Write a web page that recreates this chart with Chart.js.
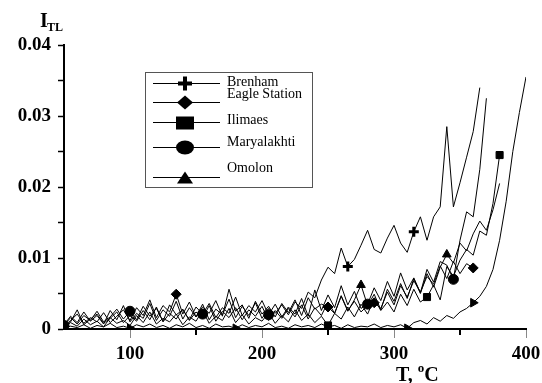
<!DOCTYPE html>
<html><head><meta charset="utf-8">
<script src="https://cdn.jsdelivr.net/npm/chart.js@4"></script>
<style>html,body{margin:0;padding:0;background:#fff}#wrap{width:542px;height:383px;position:relative}</style>
</head><body><div id="wrap"><canvas id="c" width="542" height="383"></canvas></div>
<script>
// Temperature, °C
const temperatures = [50,55,60,65,70,75,80,85,90,95,100,105,110,115,120,125,130,135,140,145,150,155,160,165,170,175,180,185,190,195,200,205,210,215,220,225,230,235,240,245,250,255,260,265,270,275,280,285,290,295,300,305,310,315,320,325,330,335,340,345,350,355,360,365,370,375,380,385,390,395,400];

const brenham = [0.0006,0.0018,0.0009,0.0024,0.0011,0.0019,0.0007,0.0026,0.0013,0.0033,0.0010,0.0022,0.0015,0.0036,0.0012,0.0027,0.0018,0.0039,0.0014,0.0030,0.0017,0.0035,0.0013,0.0028,0.0020,0.0042,0.0016,0.0032,0.0019,0.0037,0.0015,0.0029,0.0022,0.0034,0.0020,0.0038,0.0029,0.0052,0.0044,0.0069,0.0087,0.0078,0.0114,0.0088,0.0098,0.0118,0.0139,0.0112,0.0107,0.0128,0.0146,0.0121,0.0108,0.0137,0.0158,0.0125,0.0158,0.0172,0.0285,0.0172,0.0206,0.0242,0.0278,0.0340,null,null,null,null,null,null,null];
const eagleStation = [0.0004,0.0012,0.0021,0.0008,0.0016,0.0010,0.0023,0.0009,0.0018,0.0027,0.0012,0.0030,0.0019,0.0041,0.0016,0.0033,0.0024,0.0049,0.0021,0.0038,0.0017,0.0031,0.0022,0.0040,0.0018,0.0056,0.0025,0.0034,0.0015,0.0039,0.0021,0.0032,0.0017,0.0036,0.0023,0.0041,0.0019,0.0044,0.0028,0.0035,0.0031,0.0022,0.0047,0.0026,0.0039,0.0024,0.0033,0.0037,0.0029,0.0052,0.0034,0.0061,0.0045,0.0068,0.0052,0.0074,0.0063,0.0089,0.0071,0.0095,0.0078,0.0092,0.0086,null,null,null,null,null,null,null,null];
const ilimaes = [0.0003,0.0009,0.0004,0.0014,0.0006,0.0011,0.0003,0.0016,0.0008,0.0012,0.0005,0.0019,0.0009,0.0024,0.0007,0.0015,0.0010,0.0021,0.0006,0.0017,0.0011,0.0026,0.0008,0.0018,0.0012,0.0029,0.0009,0.0020,0.0007,0.0016,0.0011,0.0023,0.0008,0.0019,0.0010,0.0027,0.0012,0.0021,0.0009,0.0018,0.0005,0.0022,0.0014,0.0031,0.0017,0.0035,0.0021,0.0043,0.0026,0.0038,0.0024,0.0049,0.0033,0.0056,0.0038,0.0045,0.0062,0.0041,0.0088,0.0074,0.0097,0.0112,0.0104,0.0138,0.0132,0.0177,0.0245,null,null,null,null];
const maryalakhti = [0.0005,0.0016,0.0007,0.0019,0.0012,0.0025,0.0010,0.0017,0.0028,0.0014,0.0025,0.0013,0.0032,0.0018,0.0029,0.0011,0.0034,0.0020,0.0027,0.0013,0.0031,0.0021,0.0036,0.0016,0.0030,0.0022,0.0045,0.0019,0.0033,0.0024,0.0040,0.0020,0.0035,0.0017,0.0031,0.0021,0.0043,0.0018,0.0055,0.0026,0.0048,0.0030,0.0061,0.0034,0.0053,0.0029,0.0035,0.0058,0.0040,0.0067,0.0046,0.0079,0.0055,0.0072,0.0051,0.0084,0.0066,0.0095,0.0090,0.0070,0.0125,0.0165,0.0158,0.0225,0.0325,null,null,null,null,null,null];
const omolon = [0.0002,0.0010,0.0027,0.0006,0.0014,0.0021,0.0008,0.0015,0.0024,0.0009,0.0019,0.0011,0.0026,0.0013,0.0031,0.0010,0.0022,0.0014,0.0028,0.0012,0.0024,0.0015,0.0033,0.0011,0.0025,0.0016,0.0030,0.0013,0.0027,0.0018,0.0032,0.0012,0.0026,0.0015,0.0029,0.0017,0.0034,0.0014,0.0030,0.0019,0.0038,0.0022,0.0046,0.0025,0.0041,0.0062,0.0033,0.0049,0.0027,0.0056,0.0039,0.0064,0.0043,0.0071,0.0050,0.0078,0.0059,0.0087,0.0105,0.0093,0.0121,0.0110,0.0134,0.0152,0.0139,0.0168,0.0205,null,null,null,null];
const unlabelled = [0.0001,0.0004,0.0002,0.0006,0.0001,0.0005,0.0003,0.0008,0.0002,0.0004,0.0001,0.0006,0.0003,0.0007,0.0002,0.0005,0.0001,0.0006,0.0003,0.0008,0.0002,0.0005,0.0001,0.0007,0.0003,0.0004,0.0001,0.0006,0.0002,0.0005,0.0003,0.0008,0.0002,0.0004,0.0001,0.0006,0.0003,0.0005,0.0002,0.0007,0.0003,0.0005,0.0001,0.0006,0.0002,0.0004,0.0003,0.0007,0.0002,0.0005,0.0003,0.0006,0.0001,0.0009,0.0012,0.0007,0.0016,0.0011,0.0019,0.0015,0.0024,0.0029,0.0037,0.0046,0.0060,0.0084,0.0125,0.0180,0.0250,0.0305,0.0355];

// temperatures where each series shows its marker
const brenhamMarks = [265,315];
const eagleMarks = [50,135,250,285,360];
const ilimaesMarks = [50,250,325,380];
const maryaMarks = [50,100,155,205,280,345];
const omolonMarks = [275,340];
const unlabelledMarks = [100,180,310,360];

const yTickLabels = ['0','0.01','0.02','0.03','0.04'];
const xTickLabels = ['100','200','300','400'];

const legendNames = ['Brenham','Eagle Station','Ilimaes','Maryalakhti','Omolon'];
const legendStyles = ['cross','diamond','square','circle','triangle'];

function pts(vals){
  const out=[];
  vals.forEach((v,i)=>{ if(v!==null) out.push({x:temperatures[i],y:v}); });
  return out;
}
function ds(label, vals, marks, style, extra){
  return Object.assign({
    label, data: pts(vals),
    borderColor:'#000', borderWidth:1, tension:0,
    pointStyle: style,
    pointBackgroundColor:'#000', pointBorderColor:'#000', pointBorderWidth:1,
    pointRadius: c => marks.includes(c.raw && c.raw.x) ? 5 : 0,
    pointHoverRadius:0
  }, extra||{});
}

const FONT = "'Liberation Serif','Times New Roman',serif";

const decor = {
  id:'decor',
  afterDraw(chart){
    const c = chart.ctx, xs = chart.scales.x, ys = chart.scales.y;
    c.save();
    // minor x ticks
    c.strokeStyle='#000'; c.lineWidth=2;
    [150,250,350].forEach(v=>{
      const px = Math.round(xs.getPixelForValue(v));
      c.beginPath(); c.moveTo(px, ys.bottom); c.lineTo(px, ys.bottom+6); c.stroke();
    });
    // legend box
    c.strokeStyle='#555'; c.lineWidth=1;
    c.strokeRect(145.5,72.5,167,115);
    const lineY=[83,102,122,147,177];
    const textY=[86,98,124,146,172];
    c.font = "14px "+FONT; c.fillStyle='#000'; c.textBaseline='alphabetic';
    legendNames.forEach((n,i)=>{
      c.strokeStyle='#000'; c.lineWidth=1;
      c.beginPath(); c.moveTo(153,lineY[i]+0.5); c.lineTo(220,lineY[i]+0.5); c.stroke();
      drawMarker(c, legendStyles[i], 185, lineY[i]+0.5);
      c.fillText(n, 227, textY[i]);
    });
    // axis titles
    c.font = "bold 20px "+FONT;
    c.fillText('I', 40, 27);
    c.font = "bold 12px "+FONT;
    c.fillText('TL', 47, 31);
    c.font = "bold 20px "+FONT;
    let x = 396;
    c.fillText('T, ', x, 381); x += c.measureText('T, ').width;
    c.font = "bold 13px "+FONT;
    c.fillText('o', x, 372); x += c.measureText('o').width;
    c.font = "bold 20px "+FONT;
    c.fillText('C', x, 381);
    c.restore();
  }
};
function drawMarker(c, s, x, y){
  c.fillStyle='#000';
  c.beginPath();
  if(s==='cross'){ c.fillRect(x-7,y-2,14,4); c.fillRect(x-2,y-7,4,14); return; }
  if(s==='diamond'){ c.moveTo(x-8,y); c.lineTo(x,y-7); c.lineTo(x+8,y); c.lineTo(x,y+7); c.closePath(); }
  if(s==='square'){ c.rect(x-9,y-6,18,13); }
  if(s==='circle'){ c.ellipse(x,y,9,7,0,0,Math.PI*2); }
  if(s==='triangle'){ c.moveTo(x-8,y+6); c.lineTo(x+8,y+6); c.lineTo(x,y-6); c.closePath(); }
  c.fill();
}

new Chart(document.getElementById('c'), {
  type:'line',
  data:{ datasets:[
    ds(legendNames[0], brenham, brenhamMarks, 'cross', {pointBorderWidth:3}),
    ds(legendNames[1], eagleStation, eagleMarks, 'rectRot'),
    ds(legendNames[2], ilimaes, ilimaesMarks, 'rect'),
    ds(legendNames[3], maryalakhti, maryaMarks, 'circle'),
    ds(legendNames[4], omolon, omolonMarks, 'triangle'),
    ds('', unlabelled, unlabelledMarks, 'triangle', {pointRotation:90})
  ]},
  options:{
    responsive:false, animation:false, events:[],
    layout:{ padding:{left:0, right:16, top:45, bottom:0} },
    plugins:{ legend:{display:false}, tooltip:{enabled:false} },
    scales:{
      x:{ type:'linear', min:50, max:400,
        afterFit: s => { s.height = 54; s.paddingRight = 0; s.paddingLeft = 0; },
        ticks:{ stepSize:50, autoSkip:false, maxRotation:0, padding:5, color:'#000',
          font:{family:FONT, size:19, weight:'bold'},
          callback: v => { const k = xTickLabels.indexOf(String(v)); return k>=0 ? xTickLabels[k] : ''; } },
        grid:{ drawOnChartArea:false, drawTicks:true, tickLength:9, tickWidth:1,
          tickColor: c => (c.tick && c.tick.value%100===0) ? '#888' : 'rgba(0,0,0,0)' },
        border:{ color:'#000', width:2 }
      },
      y:{ min:0, max:0.04,
        afterFit: s => { s.width = 64; s.paddingTop = 0; s.paddingBottom = 0; },
        ticks:{ stepSize:0.005, padding:7, color:'#000',
          font:{family:FONT, size:19, weight:'bold'},
          callback: v => { const k = Math.round(v/0.01); return Math.abs(v - k*0.01) < 1e-9 ? yTickLabels[k] : ''; } },
        grid:{ drawOnChartArea:false, drawTicks:true, tickLength:6, tickWidth:1.5, tickColor:'#000' },
        border:{ color:'#000', width:2 }
      }
    }
  },
  plugins:[decor]
});
</script></body></html>
